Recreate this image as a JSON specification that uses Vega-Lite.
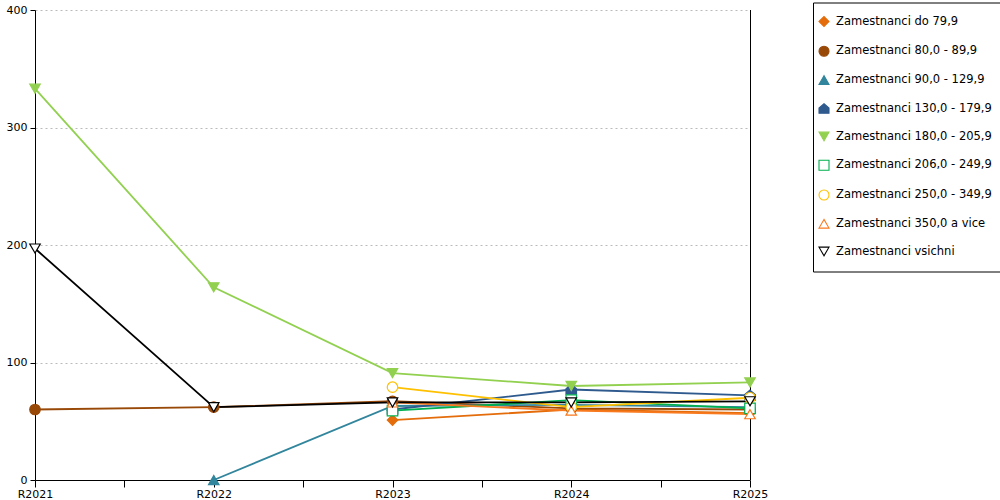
{
  "$schema": "https://vega.github.io/schema/vega-lite/v6.json",
  "width": 715,
  "height": 470,
  "autosize": "none",
  "padding": {"left": 35, "top": 10, "right": 250, "bottom": 20},
  "background": "white",
  "data": {
    "values": [
      {"serie": "Zamestnanci do 79,9", "rok": 2023, "hodnota": 51},
      {"serie": "Zamestnanci do 79,9", "rok": 2024, "hodnota": 60},
      {"serie": "Zamestnanci do 79,9", "rok": 2025, "hodnota": 57},
      {"serie": "Zamestnanci 80,0 - 89,9", "rok": 2021, "hodnota": 60},
      {"serie": "Zamestnanci 80,0 - 89,9", "rok": 2022, "hodnota": 62},
      {"serie": "Zamestnanci 80,0 - 89,9", "rok": 2023, "hodnota": 67},
      {"serie": "Zamestnanci 80,0 - 89,9", "rok": 2024, "hodnota": 61},
      {"serie": "Zamestnanci 80,0 - 89,9", "rok": 2025, "hodnota": 60},
      {"serie": "Zamestnanci 90,0 - 129,9", "rok": 2022, "hodnota": 0},
      {"serie": "Zamestnanci 90,0 - 129,9", "rok": 2023, "hodnota": 63},
      {"serie": "Zamestnanci 90,0 - 129,9", "rok": 2024, "hodnota": 64},
      {"serie": "Zamestnanci 90,0 - 129,9", "rok": 2025, "hodnota": 62},
      {"serie": "Zamestnanci 130,0 - 179,9", "rok": 2023, "hodnota": 60},
      {"serie": "Zamestnanci 130,0 - 179,9", "rok": 2024, "hodnota": 77},
      {"serie": "Zamestnanci 130,0 - 179,9", "rok": 2025, "hodnota": 72},
      {"serie": "Zamestnanci 180,0 - 205,9", "rok": 2021, "hodnota": 333},
      {"serie": "Zamestnanci 180,0 - 205,9", "rok": 2022, "hodnota": 164},
      {"serie": "Zamestnanci 180,0 - 205,9", "rok": 2023, "hodnota": 91},
      {"serie": "Zamestnanci 180,0 - 205,9", "rok": 2024, "hodnota": 80},
      {"serie": "Zamestnanci 180,0 - 205,9", "rok": 2025, "hodnota": 83},
      {"serie": "Zamestnanci 206,0 - 249,9", "rok": 2023, "hodnota": 59},
      {"serie": "Zamestnanci 206,0 - 249,9", "rok": 2024, "hodnota": 68},
      {"serie": "Zamestnanci 206,0 - 249,9", "rok": 2025, "hodnota": 61},
      {"serie": "Zamestnanci 250,0 - 349,9", "rok": 2023, "hodnota": 79},
      {"serie": "Zamestnanci 250,0 - 349,9", "rok": 2024, "hodnota": 62},
      {"serie": "Zamestnanci 250,0 - 349,9", "rok": 2025, "hodnota": 70},
      {"serie": "Zamestnanci 350,0 a vice", "rok": 2023, "hodnota": 66},
      {"serie": "Zamestnanci 350,0 a vice", "rok": 2024, "hodnota": 59},
      {"serie": "Zamestnanci 350,0 a vice", "rok": 2025, "hodnota": 56},
      {"serie": "Zamestnanci vsichni", "rok": 2021, "hodnota": 197},
      {"serie": "Zamestnanci vsichni", "rok": 2022, "hodnota": 62},
      {"serie": "Zamestnanci vsichni", "rok": 2023, "hodnota": 66},
      {"serie": "Zamestnanci vsichni", "rok": 2024, "hodnota": 66},
      {"serie": "Zamestnanci vsichni", "rok": 2025, "hodnota": 67}
    ]
  },
  "layer": [
    {
      "mark": {"type": "rule", "color": "black", "strokeWidth": 1, "xOffset": 0.5},
      "encoding": {
        "x": {
          "datum": 2025,
          "type": "quantitative",
          "title": null,
          "scale": {"domain": [2021, 2025], "nice": false, "zero": false},
          "axis": {
            "values": [2021, 2021.5, 2022, 2022.5, 2023, 2023.5, 2024, 2024.5, 2025],
            "labelExpr": "datum.value % 1 == 0 ? 'R' + datum.value : ''",
            "grid": false,
            "tickSize": 7,
            "labelPadding": 1,
            "labelFlush": false,
            "labelOverlap": false
          }
        },
        "y": {
          "datum": 0,
          "type": "quantitative",
          "title": null,
          "scale": {"domain": [0, 400], "nice": false},
          "axis": {
            "values": [0, 100, 200, 300, 400],
            "grid": true,
            "gridColor": "#bbbbbb",
            "gridDash": [2, 3],
            "tickSize": 5,
            "labelPadding": 3
          }
        },
        "y2": {"datum": 400}
      }
    },
    {
      "mark": {"type": "line", "strokeWidth": 1.8},
      "encoding": {
        "x": {"field": "rok", "type": "quantitative", "title": null},
        "y": {"field": "hodnota", "type": "quantitative", "title": null},
        "stroke": {"field": "serie", "type": "nominal", "title": null},
        "order": {"field": "rok"}
      }
    },
    {
      "mark": {"type": "point", "size": 110, "strokeWidth": 1.2, "opacity": 1},
      "encoding": {
        "x": {"field": "rok", "type": "quantitative", "title": null},
        "y": {"field": "hodnota", "type": "quantitative", "title": null},
        "stroke": {
          "field": "serie",
          "type": "nominal",
          "title": null,
          "scale": {
            "domain": ["Zamestnanci do 79,9", "Zamestnanci 80,0 - 89,9", "Zamestnanci 90,0 - 129,9", "Zamestnanci 130,0 - 179,9", "Zamestnanci 180,0 - 205,9", "Zamestnanci 206,0 - 249,9", "Zamestnanci 250,0 - 349,9", "Zamestnanci 350,0 a vice", "Zamestnanci vsichni"],
            "range": ["#e46c0a", "#984807", "#31859c", "#2e5a8e", "#92d050", "#00b050", "#ffc000", "#f97a1e", "#000000"]
          }
        },
        "fill": {
          "field": "serie",
          "type": "nominal",
          "title": null,
          "scale": {
            "domain": ["Zamestnanci do 79,9", "Zamestnanci 80,0 - 89,9", "Zamestnanci 90,0 - 129,9", "Zamestnanci 130,0 - 179,9", "Zamestnanci 180,0 - 205,9", "Zamestnanci 206,0 - 249,9", "Zamestnanci 250,0 - 349,9", "Zamestnanci 350,0 a vice", "Zamestnanci vsichni"],
            "range": ["#e46c0a", "#984807", "#31859c", "#2e5a8e", "#92d050", "#ffffff", "#ffffff", "#ffffff", "#ffffff"]
          }
        },
        "shape": {
          "field": "serie",
          "type": "nominal",
          "title": null,
          "scale": {
            "domain": ["Zamestnanci do 79,9", "Zamestnanci 80,0 - 89,9", "Zamestnanci 90,0 - 129,9", "Zamestnanci 130,0 - 179,9", "Zamestnanci 180,0 - 205,9", "Zamestnanci 206,0 - 249,9", "Zamestnanci 250,0 - 349,9", "Zamestnanci 350,0 a vice", "Zamestnanci vsichni"],
            "range": ["diamond", "circle", "triangle-up", "M0,-1L1,-0.15L1,0.9L-1,0.9L-1,-0.15Z", "triangle-down", "square", "circle", "triangle-up", "triangle-down"]
          }
        }
      }
    }
  ],
  "config": {
    "font": "DejaVu Sans",
    "view": {"stroke": null},
    "axis": {
      "domainColor": "black",
      "tickColor": "black",
      "labelColor": "black",
      "labelFontSize": 11,
      "labelFont": "DejaVu Sans"
    },
    "legend": {
      "orient": "none",
      "legendX": 778,
      "legendY": -7.5,
      "padding": 13,
      "symbolOffset": -8,
      "strokeColor": "black",
      "fillColor": "white",
      "labelFontSize": 11.5,
      "labelFont": "DejaVu Sans",
      "labelColor": "black",
      "symbolSize": 100,
      "symbolStrokeWidth": 1.1,
      "rowPadding": 13.75,
      "labelOffset": 6,
      "labelLimit": 300
    }
  }
}
